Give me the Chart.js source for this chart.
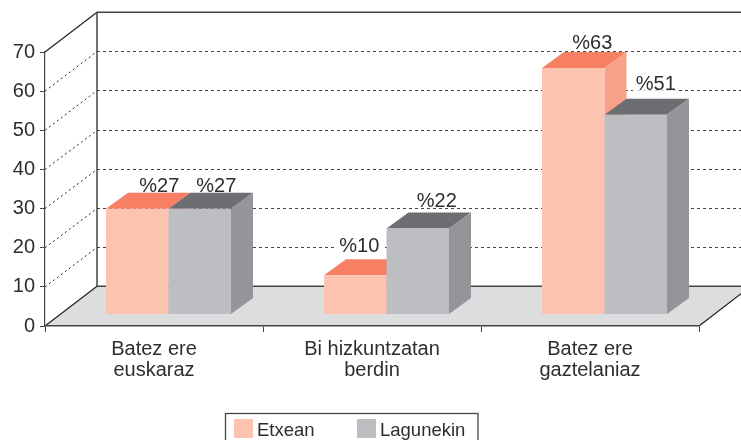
<!DOCTYPE html>
<html>
<head>
<meta charset="utf-8">
<style>
  html, body { margin: 0; padding: 0; background: #fff; overflow: hidden; }
  canvas { display: block; }
</style>
<script src="https://cdn.jsdelivr.net/npm/chart.js@4"></script>
</head>
<body>
<canvas id="myChart" width="741" height="440"></canvas>
<script>
// Chart data
const categories = [['Batez ere', 'euskaraz'], ['Bi hizkuntzatan', 'berdin'], ['Batez ere', 'gaztelaniaz']];
const etxean = [27, 10, 63];
const lagunekin = [27, 22, 51];
const seriesNames = ['Etxean', 'Lagunekin'];
const yTicks = [0, 10, 20, 30, 40, 50, 60, 70];

// Colours: front, top and side of each series
const faces = [
  { front: '#fcc4b0', top: '#f77f63', side: '#f8a088' },
  { front: '#bcbec1', top: '#6d6e71', side: '#939598' }
];
const fontName = '"Liberation Sans", Arial, sans-serif';
const textColor = '#2e2e2e';
const lineColor = '#444';

// 3D offsets
const wall = { dx: 52, dy: -39.8 };       // back wall against the front plane
const barShift = { dx: 14.5, dy: -11.5 }; // bars stand a little inside the floor
const barDepth = { dx: 22, dy: -16 };     // depth of each bar

// Hand placed value labels, one pair per bar [dx, dy]
const labelNudge = [
  [[0, -1.2], [-18, -7.8], [-3, -3]],
  [[-5.5, -1.2], [-3, -5.5], [-2, -9.1]]
];

function line(ctx, x1, y1, x2, y2) {
  ctx.beginPath();
  ctx.moveTo(x1, y1);
  ctx.lineTo(x2, y2);
  ctx.stroke();
}

function fillShape(ctx, color, points) {
  ctx.fillStyle = color;
  ctx.beginPath();
  points.forEach((p, i) => i ? ctx.lineTo(p[0], p[1]) : ctx.moveTo(p[0], p[1]));
  ctx.closePath();
  ctx.fill();
}

// Position of a value label for a given bar
function labelSpot(chart, ds, i) {
  const bar = chart.getDatasetMeta(ds).data[i];
  return {
    x: bar.x + barShift.dx + barDepth.dx + labelNudge[ds][i][0],
    y: bar.y + barShift.dy + barDepth.dy + labelNudge[ds][i][1]
  };
}

const box3d = {
  id: 'box3d',
  // Floor and back wall, under everything
  beforeDraw(chart) {
    const { ctx, chartArea: a, scales: { y } } = chart;
    const y0 = y.getPixelForValue(0);
    const yTop = y.getPixelForValue(70);
    ctx.save();
    fillShape(ctx, '#dcddde', [[a.left, y0], [a.left + wall.dx, y0 + wall.dy], [a.right + wall.dx, y0 + wall.dy], [a.right, y0]]);

    // Dashed grid, on the wall and on the left side
    yTicks.slice(1, -1).forEach(v => {
      const py = y.getPixelForValue(v);
      const wallY = Math.round(py + wall.dy) + 0.5;
      ctx.strokeStyle = '#444';
      ctx.lineWidth = 1;
      ctx.setLineDash([3, 3]);
      line(ctx, a.left + wall.dx, wallY, a.right + wall.dx, wallY);
      ctx.strokeStyle = '#222';
      ctx.setLineDash([2, 3]);
      line(ctx, a.left, py, a.left + wall.dx, wallY);
    });
    ctx.setLineDash([]);

    // Solid frame
    ctx.strokeStyle = lineColor;
    ctx.lineWidth = 1.5;
    line(ctx, a.left + wall.dx, yTop + wall.dy, a.left + wall.dx, y0 + wall.dy);
    line(ctx, a.left + wall.dx, yTop + wall.dy, a.right + wall.dx, yTop + wall.dy);
    line(ctx, a.left + wall.dx, y0 + wall.dy, a.right + wall.dx, y0 + wall.dy);
    ctx.strokeStyle = '#222';
    ctx.lineWidth = 1.2;
    line(ctx, a.left, yTop, a.left + wall.dx, yTop + wall.dy);
    line(ctx, a.left, y0, a.left + wall.dx, y0 + wall.dy);
    line(ctx, a.right, y0, a.right + wall.dx, y0 + wall.dy);
    ctx.restore();
  },
  // Chart.js would paint the last series first, the bars are painted below instead
  beforeDatasetDraw() {
    return false;
  },
  afterDatasetsDraw(chart) {
    const { ctx } = chart;
    ctx.save();

    // White patch behind the labels breaks the grid lines
    ctx.font = '20px ' + fontName;
    ctx.fillStyle = '#fff';
    [etxean, lagunekin].forEach((values, ds) => values.forEach((v, i) => {
      const p = labelSpot(chart, ds, i);
      const w = ctx.measureText('%' + v).width;
      ctx.fillRect(p.x - w / 2 - 3, p.y - 15, w + 6, 16);
    }));

    // Top and side of each bar, then the front from Chart.js, left series first
    seriesNames.forEach((name, ds) => {
      const meta = chart.getDatasetMeta(ds);
      const colors = faces[ds];
      ctx.save();
      ctx.translate(barShift.dx, barShift.dy);
      meta.data.forEach(bar => {
        const l = bar.x - bar.width / 2;
        const r = bar.x + bar.width / 2;
        const d = barDepth;
        fillShape(ctx, colors.top, [[l, bar.y], [l + d.dx, bar.y + d.dy], [r + d.dx, bar.y + d.dy], [r, bar.y]]);
        fillShape(ctx, colors.side, [[r, bar.y], [r + d.dx, bar.y + d.dy], [r + d.dx, bar.base + d.dy], [r, bar.base]]);
      });
      meta.controller.draw();
      ctx.restore();
    });

    // Value labels
    ctx.font = '20px ' + fontName;
    ctx.fillStyle = textColor;
    ctx.textAlign = 'center';
    ctx.textBaseline = 'alphabetic';
    [etxean, lagunekin].forEach((values, ds) => values.forEach((v, i) => {
      const p = labelSpot(chart, ds, i);
      ctx.fillText('%' + v, p.x, p.y);
    }));

    // Legend box, runs off the bottom of the picture
    ctx.strokeStyle = lineColor;
    ctx.lineWidth = 1.3;
    ctx.strokeRect(225.5, 413.5, 252.5, 40);
    const legendX = [234, 357];
    ctx.font = '18.5px ' + fontName;
    ctx.textAlign = 'left';
    seriesNames.forEach((name, i) => {
      ctx.fillStyle = faces[i].front;
      ctx.fillRect(legendX[i], 419, 19, 19);
      ctx.fillStyle = textColor;
      ctx.fillText(name, legendX[i] + 23, 436);
    });
    ctx.restore();
  }
};

const config = {
  type: 'bar',
  data: {
    labels: categories,
    datasets: [
      { label: seriesNames[0], data: etxean, backgroundColor: faces[0].front },
      { label: seriesNames[1], data: lagunekin, backgroundColor: faces[1].front }
    ]
  },
  options: {
    responsive: false,
    animation: false,
    events: [],
    layout: { padding: { top: 52, right: 42, bottom: 0, left: 0 } },
    datasets: { bar: { barPercentage: 1, categoryPercentage: 0.5734 } },
    plugins: { legend: { display: false }, tooltip: { enabled: false } },
    scales: {
      x: {
        afterFit(scale) { scale.height = 114; },
        grid: { drawOnChartArea: false, tickLength: 6, color: lineColor },
        border: { color: lineColor, width: 1.5 },
        ticks: { color: textColor, padding: 7, maxRotation: 0, font: { family: fontName, size: 20, lineHeight: 1.05 } }
      },
      y: {
        min: 0,
        max: 70,
        afterFit(scale) { scale.width = 45; },
        afterBuildTicks(scale) { scale.ticks = yTicks.map(v => ({ value: v })); },
        grid: { drawOnChartArea: false, tickLength: 5, color: lineColor },
        border: { color: lineColor, width: 1.2 },
        ticks: { color: textColor, padding: 5, font: { family: fontName, size: 20 } }
      }
    }
  },
  plugins: [box3d]
};

new Chart(document.getElementById('myChart'), config);
</script>
</body>
</html>
